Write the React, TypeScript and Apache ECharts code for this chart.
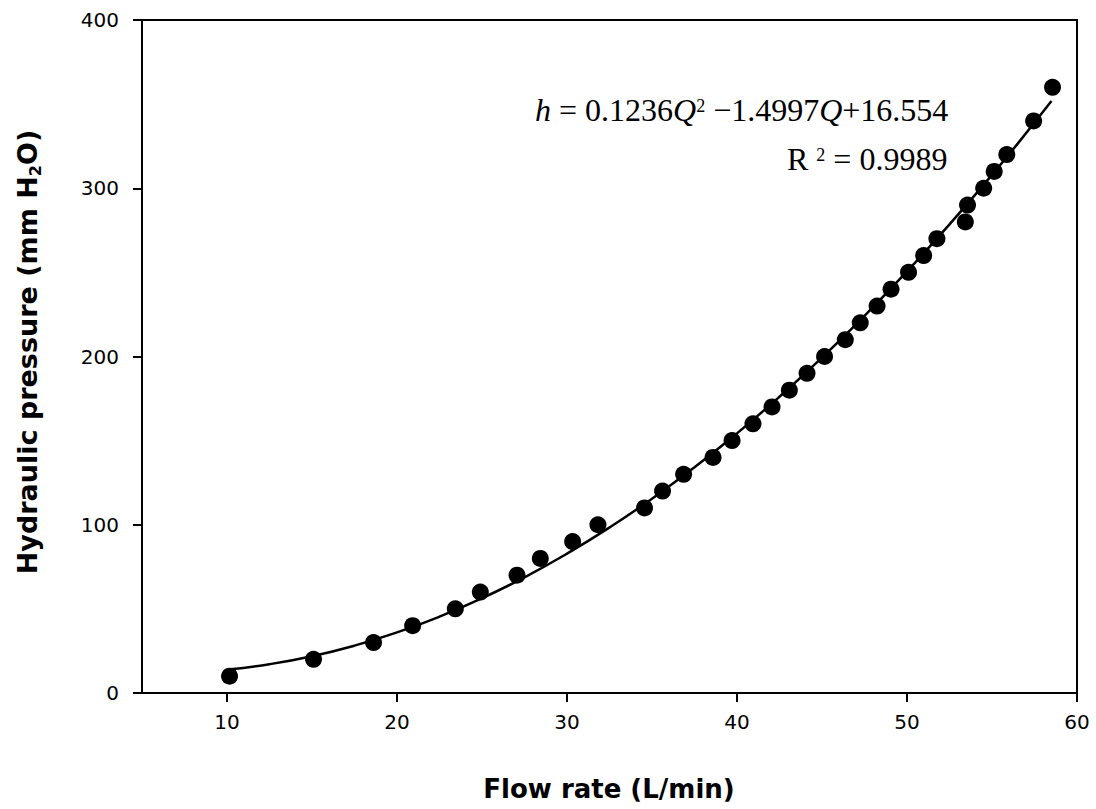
import React, { useEffect, useRef } from "react";
import * as echarts from "echarts";

// Measured points: flow rate (L/min) vs hydraulic pressure (mm H2O)
const flowRate = [
  10.15, 15.09, 18.62, 20.92, 23.43, 24.9, 27.06, 28.43, 30.33, 31.82, 34.56,
  35.62, 36.86, 38.59, 39.71, 40.94, 42.06, 43.08, 44.12, 45.15, 46.37, 47.25,
  48.24, 49.06, 50.09, 50.98, 51.76, 53.43, 53.56, 54.51, 55.13, 55.87, 57.45,
  58.56,
];
const pressure = [
  10, 20, 30, 40, 50, 60, 70, 80, 90, 100, 110, 120, 130, 140, 150, 160, 170,
  180, 190, 200, 210, 220, 230, 240, 250, 260, 270, 280, 290, 300, 310, 320,
  340, 360,
];

// Fitted curve
const fitFlow = [
  10.2, 12.5, 15, 17.5, 20, 22.5, 25, 27.5, 30, 32.5, 35, 37.5, 40, 42.5, 45,
  47.5, 50, 52.5, 55, 56.5, 58.5,
];
const fitPressure = [
  14.12, 17.12, 21.87, 28.16, 36.0, 45.38, 56.31, 68.78, 82.8, 98.36, 115.47,
  134.12, 154.32, 176.06, 199.35, 224.18, 250.56, 278.49, 307.96, 326.38,
  351.81,
];

const xTickValues = [10, 20, 30, 40, 50, 60];

export default function App() {
  const ref = useRef<HTMLDivElement>(null);

  useEffect(() => {
    if (!ref.current) return;
    const chart = echarts.init(ref.current, null, { renderer: "svg" });
    const sans = "DejaVu Sans";
    const serif = "Liberation Serif";

    chart.setOption({
      animation: false,
      backgroundColor: "#ffffff",
      grid: {
        left: 142,
        right: 19,
        top: 20,
        bottom: 116,
        show: true,
        borderColor: "#000",
        borderWidth: 2,
        containLabel: false,
        outerBoundsMode: "none",
      },
      xAxis: {
        type: "value",
        min: 5,
        max: 60,
        axisLine: { show: true, lineStyle: { color: "#000", width: 2 } },
        axisTick: {
          show: true,
          inside: false,
          length: 9,
          customValues: xTickValues,
          lineStyle: { color: "#000", width: 2 },
        },
        axisLabel: {
          customValues: xTickValues,
          margin: 19,
          color: "#000",
          fontFamily: sans,
          fontSize: 20,
        },
        splitLine: { show: false },
      },
      yAxis: {
        type: "value",
        min: 0,
        max: 400,
        interval: 100,
        axisLine: { show: true, lineStyle: { color: "#000", width: 2 } },
        axisTick: {
          show: true,
          inside: false,
          length: 9,
          lineStyle: { color: "#000", width: 2 },
        },
        axisLabel: {
          margin: 23,
          color: "#000",
          fontFamily: sans,
          fontSize: 20,
        },
        splitLine: { show: false },
      },
      series: [
        {
          type: "line",
          data: fitFlow.map((q, i) => [q, fitPressure[i]]),
          smooth: true,
          showSymbol: false,
          symbol: "none",
          lineStyle: { color: "#000", width: 2.5 },
          z: 2,
        },
        {
          type: "scatter",
          data: flowRate.map((q, i) => [q, pressure[i]]),
          symbol: "circle",
          symbolSize: 17,
          itemStyle: { color: "#000", opacity: 1 },
          z: 3,
        },
      ],
      graphic: [
        {
          type: "text",
          x: 27,
          y: 352,
          rotation: Math.PI / 2,
          style: {
            text: "{t|Hydraulic pressure (mm H}{s|2}{t|O)}",
            align: "center",
            verticalAlign: "middle",
            fill: "#000",
            rich: {
              t: {
                fontFamily: sans,
                fontWeight: "bold",
                fontSize: 27,
                lineHeight: 32,
                fill: "#000",
              },
              s: {
                fontFamily: sans,
                fontWeight: "bold",
                fontSize: 16,
                lineHeight: 16,
                verticalAlign: "bottom",
                fill: "#000",
              },
            },
          },
        },
        {
          type: "text",
          x: 609,
          y: 789,
          style: {
            text: "Flow rate (L/min)",
            align: "center",
            verticalAlign: "middle",
            fill: "#000",
            fontFamily: sans,
            fontWeight: "bold",
            fontSize: 26,
          },
        },
        {
          type: "text",
          x: 535,
          y: 110,
          style: {
            text: "{i|h}{n| = 0.1236}{i|Q}{p|2}{n| −1.4997}{i|Q}{n|+16.554}",
            align: "left",
            verticalAlign: "middle",
            fill: "#000",
            rich: {
              n: { fontFamily: serif, fontSize: 32, lineHeight: 32, fill: "#000" },
              i: {
                fontFamily: serif,
                fontStyle: "italic",
                fontSize: 32,
                lineHeight: 32,
                fill: "#000",
              },
              p: {
                fontFamily: serif,
                fontSize: 18,
                lineHeight: 18,
                verticalAlign: "top",
                padding: [3, 0, 0, 0],
                fill: "#000",
              },
            },
          },
        },
        {
          type: "text",
          x: 787,
          y: 159,
          style: {
            text: "{n|R }{p|2}{n| = 0.9989}",
            align: "left",
            verticalAlign: "middle",
            fill: "#000",
            rich: {
              n: { fontFamily: serif, fontSize: 32, lineHeight: 32, fill: "#000" },
              p: {
                fontFamily: serif,
                fontSize: 18,
                lineHeight: 18,
                verticalAlign: "top",
                padding: [3, 0, 0, 0],
                fill: "#000",
              },
            },
          },
        },
      ],
    });

    return () => {
      chart.dispose();
    };
  }, []);

  return (
    <div
      ref={ref}
      style={{
        position: "absolute",
        left: 0,
        top: 0,
        width: 1096,
        height: 809,
        background: "#fff",
      }}
    />
  );
}
